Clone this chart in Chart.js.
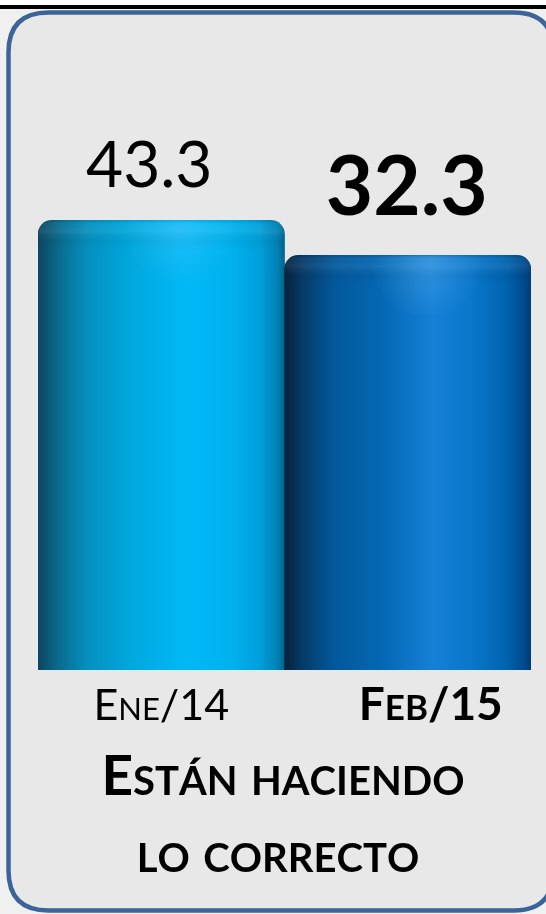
<!DOCTYPE html>
<html>
<head>
<meta charset="utf-8">
<script src="https://cdn.jsdelivr.net/npm/chart.js@4"></script>
<style>
  html, body { margin: 0; padding: 0; background: #f0f0f0; }
  #grafico { display: block; }
</style>
</head>
<body>
<canvas id="grafico" width="546" height="914"></canvas>
<script>
// datos
const categorias = ['Ene/14', 'Feb/15'];
const valores = [43.3, 32.3];
const titulo = ['Están haciendo', 'lo correcto'];

// eje vertical (oculto); las barras arrancan desde el mínimo
const ejeMin = -98;
const ejeMax = 100;

const FUENTE = "Lato, 'Noto Sans', sans-serif";

// estilos por barra
const estiloValor = [
    { peso: 'normal', size: 64, dx: -12, dy: -33 },
    { peso: 'bold', size: 82, dx: -1, dy: -40 }
];
const estiloCat = [
    { peso: 'normal', big: 43, small: 31, dx: 0 },
    { peso: 'bold', big: 46, small: 35, dx: 23 }
];
const paradas = [
    [[0, '#0c4660'], [0.08, '#0a6a8c'], [0.2, '#0490bf'], [0.38, '#01a8de'],
     [0.6, '#00b8f6'], [0.78, '#00b2ee'], [0.9, '#009fdb'], [0.97, '#0082b6'], [1, '#00648c']],
    [[0, '#06233d'], [0.08, '#053d6c'], [0.2, '#04589a'], [0.4, '#0468b4'],
     [0.6, '#1580d6'], [0.76, '#0a77cb'], [0.9, '#0063ae'], [0.97, '#004b8e'], [1, '#003c76']]
];

// texto en versalitas: minúsculas se dibujan como mayúsculas pequeñas
function versalitas(ctx, texto, x, y, big, small, peso) {
    let partes = [];
    let total = 0;
    for (let ch of texto) {
        let esMin = ch !== ch.toUpperCase();
        let size = esMin ? small : big;
        let c = esMin ? ch.toUpperCase() : ch;
        ctx.font = peso + ' ' + size + 'px ' + FUENTE;
        let w = ctx.measureText(c).width;
        partes.push({ c: c, size: size, w: w });
        total += w;
    }
    let px = x - total / 2;
    ctx.textAlign = 'left';
    ctx.textBaseline = 'alphabetic';
    partes.forEach(function (p) {
        ctx.font = peso + ' ' + p.size + 'px ' + FUENTE;
        ctx.fillText(p.c, px, y);
        px += p.w;
    });
}

function rectRedondo(ctx, x, y, w, h, r) {
    ctx.beginPath();
    ctx.moveTo(x + r, y);
    ctx.lineTo(x + w - r, y);
    ctx.quadraticCurveTo(x + w, y, x + w, y + r);
    ctx.lineTo(x + w, y + h - r);
    ctx.quadraticCurveTo(x + w, y + h, x + w - r, y + h);
    ctx.lineTo(x + r, y + h);
    ctx.quadraticCurveTo(x, y + h, x, y + h - r);
    ctx.lineTo(x, y + r);
    ctx.quadraticCurveTo(x, y, x + r, y);
    ctx.closePath();
}

// fondo: franja negra superior y panel gris con borde azul
const fondo = {
    id: 'fondo',
    beforeDraw: function (chart) {
        const ctx = chart.ctx;
        ctx.save();
        ctx.fillStyle = '#f0f0f0';
        ctx.fillRect(0, 0, chart.width, chart.height);
        ctx.fillStyle = '#ffffff';
        ctx.fillRect(0, 0, chart.width, 5);
        ctx.fillStyle = '#000000';
        ctx.fillRect(0, 5, chart.width, 4);
        rectRedondo(ctx, 8.5, 12.5, 545, 898, 40);
        ctx.fillStyle = '#e8e8e8';
        ctx.fill();
        ctx.lineWidth = 4.5;
        ctx.strokeStyle = '#3b6598';
        ctx.stroke();
        ctx.restore();
    }
};

// brillo del cilindro, valores y etiquetas
const etiquetas = {
    id: 'etiquetas',
    afterDatasetsDraw: function (chart) {
        const ctx = chart.ctx;
        const meta = chart.getDatasetMeta(0);
        ctx.save();
        meta.data.forEach(function (bar, i) {
            const half = bar.width / 2;
            const left = bar.x - half;
            // tapa superior redondeada
            ctx.save();
            rectRedondo(ctx, left, bar.y, bar.width, 60, 14);
            ctx.clip();
            let g = ctx.createLinearGradient(0, bar.y, 0, bar.y + 30);
            g.addColorStop(0, 'rgba(0,0,0,0.16)');
            g.addColorStop(0.15, 'rgba(255,255,255,0.04)');
            g.addColorStop(0.35, 'rgba(255,255,255,0.07)');
            g.addColorStop(0.7, 'rgba(0,0,0,0.04)');
            g.addColorStop(1, 'rgba(0,0,0,0)');
            ctx.fillStyle = g;
            ctx.fillRect(left, bar.y, bar.width, 30);
            let cx = bar.x + half * 0.15;
            let r = ctx.createRadialGradient(cx, bar.y + 9, 1, cx, bar.y + 9, half * 0.45);
            r.addColorStop(0, 'rgba(140,210,255,0.22)');
            r.addColorStop(1, 'rgba(140,210,255,0)');
            ctx.fillStyle = r;
            ctx.fillRect(left, bar.y, bar.width, 60);
            ctx.restore();

            // valor
            const ev = estiloValor[i];
            ctx.fillStyle = '#000000';
            ctx.textAlign = 'center';
            ctx.textBaseline = 'alphabetic';
            ctx.font = ev.peso + ' ' + ev.size + 'px ' + FUENTE;
            ctx.fillText(valores[i].toFixed(1), bar.x + ev.dx, bar.y + ev.dy);

            // categoría
            const ec = estiloCat[i];
            versalitas(ctx, categorias[i], bar.x + ec.dx, chart.chartArea.bottom + 50, ec.big, ec.small, ec.peso);
        });

        // título inferior
        ctx.fillStyle = '#000000';
        versalitas(ctx, titulo[0], 283, 795, 55, 40, 'bold');
        versalitas(ctx, titulo[1], 278, 872, 55, 40, 'bold');
        ctx.restore();
    }
};

function degradado(context) {
    const chart = context.chart;
    const i = context.dataIndex;
    if (!chart.chartArea) return paradas[i][5][1];
    const xs = chart.scales.x;
    const centro = xs.getPixelForValue(i);
    const half = xs.width / categorias.length / 2;
    const g = chart.ctx.createLinearGradient(centro - half, 0, centro + half, 0);
    paradas[i].forEach(function (p) { g.addColorStop(p[0], p[1]); });
    return g;
}

new Chart(document.getElementById('grafico'), {
    type: 'bar',
    data: {
        labels: categorias,
        datasets: [{
            data: valores,
            base: ejeMin,
            backgroundColor: degradado,
            borderWidth: 0,
            borderRadius: { topLeft: 14, topRight: 14, bottomLeft: 0, bottomRight: 0 },
            borderSkipped: 'bottom',
            barPercentage: 1,
            categoryPercentage: 1
        }]
    },
    options: {
        responsive: false,
        animation: false,
        layout: { padding: { left: 38, right: 15, top: 40, bottom: 244 } },
        plugins: {
            legend: { display: false },
            tooltip: { enabled: false }
        },
        scales: {
            x: { display: false },
            y: { display: false, min: ejeMin, max: ejeMax }
        }
    },
    plugins: [fondo, etiquetas]
});
</script>
</body>
</html>
